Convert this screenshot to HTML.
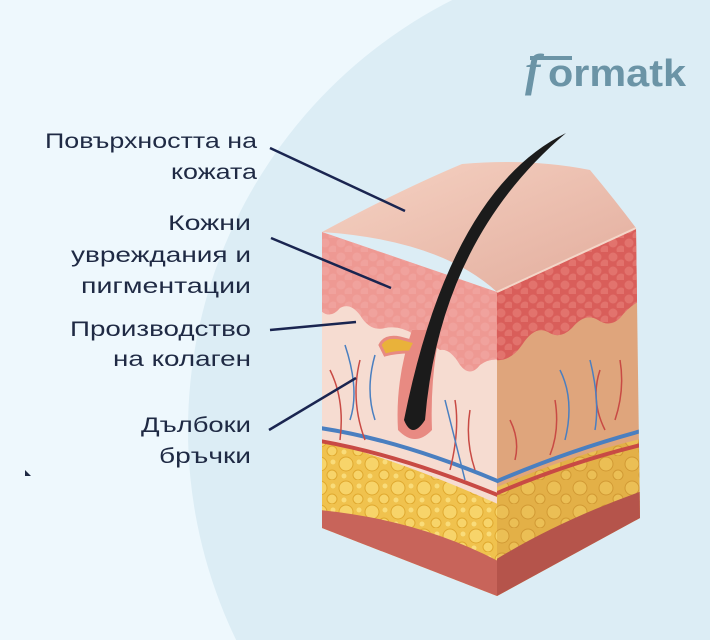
<!DOCTYPE html>
<html><head><meta charset="utf-8"><style>
html,body{margin:0;padding:0;overflow:hidden;width:710px;height:640px}
body{background:#eef8fd;font-family:"Liberation Sans","DejaVu Sans",sans-serif}
svg{display:block}
</style></head><body>
<svg width="710" height="640" viewBox="0 0 710 640" xmlns="http://www.w3.org/2000/svg">
<defs>
<clipPath id="lf"><path d="M322,232 Q410,262 497,292 L497,596 L322,528 Z"/></clipPath>
<clipPath id="rf"><path d="M497,292 L636,228 L640,518 L497,596 Z"/></clipPath>
<pattern id="dots" width="16" height="14" patternUnits="userSpaceOnUse"><circle cx="5" cy="5" r="4.5" fill="#f2a9a3" opacity="0.6"/><circle cx="13" cy="12" r="4.5" fill="#f2a9a3" opacity="0.6"/></pattern>
<pattern id="dots2" width="16" height="14" patternUnits="userSpaceOnUse"><circle cx="5" cy="5" r="4.5" fill="#e7817a" opacity="0.6"/><circle cx="13" cy="12" r="4.5" fill="#e7817a" opacity="0.6"/></pattern>
<pattern id="fat" width="26" height="24" patternUnits="userSpaceOnUse"><rect width="26" height="24" fill="#f0c24e"/><circle cx="8" cy="8" r="7" fill="#f7d46a" stroke="#e0a92f" stroke-width="1"/><circle cx="20" cy="19" r="5" fill="#f7d46a" stroke="#e0a92f" stroke-width="1"/><circle cx="21" cy="6" r="2.5" fill="#f9dc7a"/><circle cx="6" cy="20" r="2.5" fill="#f9dc7a"/></pattern>
<pattern id="fat2" width="26" height="24" patternUnits="userSpaceOnUse"><rect width="26" height="24" fill="#e3b047"/><circle cx="8" cy="8" r="7" fill="#ebbf55" stroke="#d29a34" stroke-width="1"/><circle cx="20" cy="19" r="5" fill="#ebbf55" stroke="#d29a34" stroke-width="1"/></pattern>
<linearGradient id="top" x1="0" y1="0" x2="1" y2="1"><stop offset="0" stop-color="#f6d3c4"/><stop offset="1" stop-color="#e2ac9c"/></linearGradient>
</defs>
<circle cx="670" cy="430" r="482" fill="#dcedf5"/>
<!-- logo -->
<text x="525" y="86" font-size="46" font-weight="bold" fill="#6b94a6" font-family="Liberation Serif,serif" font-style="italic">f</text>
<path d="M530,58 L572,58" stroke="#6b94a6" stroke-width="4"/>
<text x="548" y="86" font-size="38" font-weight="bold" fill="#6b94a6" textLength="138" lengthAdjust="spacingAndGlyphs">ormatk</text>
<!-- left face -->
<g clip-path="url(#lf)">
<rect x="320" y="220" width="180" height="400" fill="#f6dcd1"/>
<path d="M320,225 L500,225 L500,360 Q490,358 480,365 Q470,378 460,365 Q450,348 440,350 Q425,340 415,335 Q400,325 385,328 Q370,332 360,315 Q350,302 340,308 Q330,320 320,310 Z" fill="#ee9993"/>
<path d="M320,225 L500,225 L500,360 Q490,358 480,365 Q470,378 460,365 Q450,348 440,350 Q425,340 415,335 Q400,325 385,328 Q370,332 360,315 Q350,302 340,308 Q330,320 320,310 Z" fill="url(#dots)"/>
<path d="M320,440 Q400,460 500,505 L500,620 L320,620 Z" fill="url(#fat)"/>
<path d="M320,510 Q420,520 500,562 L500,620 L320,620 Z" fill="#c8645a"/>
<path d="M320,428 Q400,440 500,482" stroke="#4a7fc0" stroke-width="4" fill="none"/>
<path d="M320,441 Q400,455 500,496" stroke="#c84a44" stroke-width="4" fill="none"/>
<g stroke="#c84a44" stroke-width="1.5" fill="none"><path d="M330,370 Q345,400 340,440 M360,360 Q350,400 365,440 M455,400 Q460,430 450,470 M470,410 Q465,440 475,470"/></g>
<g stroke="#4a7fc0" stroke-width="1.5" fill="none"><path d="M345,345 Q360,390 350,420 M375,355 Q365,390 375,420 M445,400 Q455,440 465,480"/></g>
</g>
<!-- right face -->
<g clip-path="url(#rf)">
<rect x="495" y="220" width="150" height="400" fill="#dfa57c"/>
<path d="M495,220 L645,220 L645,298 Q630,305 620,318 Q610,328 598,320 Q585,312 572,328 Q560,340 548,332 Q535,325 522,345 Q510,362 495,360 Z" fill="#d95e5a"/>
<path d="M495,220 L645,220 L645,298 Q630,305 620,318 Q610,328 598,320 Q585,312 572,328 Q560,340 548,332 Q535,325 522,345 Q510,362 495,360 Z" fill="url(#dots2)"/>
<path d="M495,488 Q570,455 645,438 L645,620 L495,620 Z" fill="url(#fat2)"/>
<path d="M495,560 Q560,520 645,490 L645,620 L495,620 Z" fill="#b5544b"/>
<path d="M495,482 Q570,450 645,430" stroke="#4a7fc0" stroke-width="4" fill="none"/>
<path d="M495,494 Q570,462 645,444" stroke="#c84a44" stroke-width="4" fill="none"/>
<g stroke="#c84a44" stroke-width="1.5" fill="none"><path d="M510,420 Q520,440 515,460 M555,400 Q560,430 550,455 M600,370 Q590,400 605,430 M620,360 Q625,390 615,420"/></g>
<g stroke="#4a7fc0" stroke-width="1.5" fill="none"><path d="M560,370 Q575,400 565,440 M590,360 Q600,400 595,430"/></g>
</g>
<!-- top face -->
<path d="M322,232 Q400,190 462,164 Q530,158 590,170 Q615,200 636,228 Q560,262 497,292 Q440,240 322,232 Z" fill="url(#top)"/>
<path d="M497,292 L636,228" stroke="#f4d6c8" stroke-width="2"/>
<!-- follicle + gland -->
<path d="M398,430 Q395,380 412,330 L440,330 Q430,380 432,430 Q415,448 398,430 Z" fill="#e88a82"/>
<path d="M380,345 Q385,335 400,338 L415,342 L410,352 Q395,352 385,355 Z" fill="#e9b23a" stroke="#e88a82" stroke-width="3"/>
<!-- hair -->
<path d="M566,133 Q450,190 404,420 Q412,440 425,420 Q440,240 566,133 Z" fill="#1b1b1b"/>
<!-- labels -->
<g fill="#1f2a44" font-size="21" text-anchor="end">
<text x="257" y="148" textLength="212" lengthAdjust="spacingAndGlyphs">Повърхността на</text>
<text x="257" y="179" textLength="86" lengthAdjust="spacingAndGlyphs">кожата</text>
<text x="251" y="230" textLength="83" lengthAdjust="spacingAndGlyphs">Кожни</text>
<text x="251" y="262" textLength="180" lengthAdjust="spacingAndGlyphs">увреждания и</text>
<text x="251" y="293" textLength="170" lengthAdjust="spacingAndGlyphs">пигментации</text>
<text x="251" y="336" textLength="181" lengthAdjust="spacingAndGlyphs">Производство</text>
<text x="251" y="366" textLength="138" lengthAdjust="spacingAndGlyphs">на колаген</text>
<text x="251" y="432" textLength="110" lengthAdjust="spacingAndGlyphs">Дълбоки</text>
<text x="251" y="463" textLength="92" lengthAdjust="spacingAndGlyphs">бръчки</text>
</g>
<g stroke="#1a2550" stroke-width="2.5">
<line x1="270" y1="148" x2="405" y2="211"/>
<line x1="271" y1="238" x2="391" y2="288"/>
<line x1="270" y1="330" x2="356" y2="322"/>
<line x1="269" y1="430" x2="356" y2="378"/>
</g>
<path d="M25,470 l6,6 l-6,0z" fill="#1f2a44"/>
</svg>
</body></html>
